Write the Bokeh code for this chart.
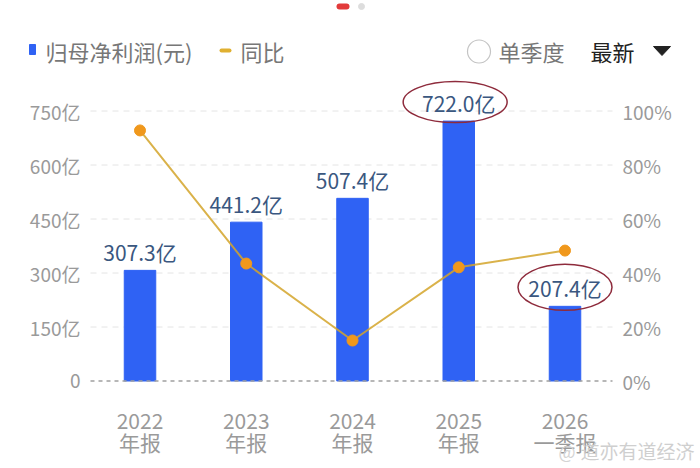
from bokeh.plotting import figure
from bokeh.models import Range1d
from bokeh.embed import file_html
from bokeh.resources import INLINE
from bokeh.core.properties import value

# ---------------- data ----------------
periods = ["2022", "2023", "2024", "2025", "2026"]
period_kind = ["年报", "年报", "年报", "年报", "一季报"]
profit = [307.3, 441.2, 507.4, 722.0, 207.4]          # 归母净利润 (亿)
profit_labels = ["307.3亿", "441.2亿", "507.4亿", "722.0亿", "207.4亿"]
yoy = [92.8, 43.5, 15.0, 42.1, 48.3]                  # 同比 (%)
left_ticks = [0, 150, 300, 450, 600, 750]
left_tick_labels = ["0", "150亿", "300亿", "450亿", "600亿", "750亿"]
right_ticks = [0, 20, 40, 60, 80, 100]
right_tick_labels = ["0%", "20%", "40%", "60%", "80%", "100%"]
highlighted = [3, 4]

# ---------------- layout helpers (picture pixels -> data) ----------------
W, H = 700, 468
X0, DX = 139.5, 106.25       # picture x of first bar, spacing
Y0, KY = 380.5, 0.36         # picture y of zero line, px per 亿
PCT = 7.5                    # 亿 per % on right axis


def X(px):
    return (px - X0) / DX


def Y(py):
    return (Y0 - py) / KY


FONT = value("Noto Sans CJK SC")
idx = list(range(len(periods)))

p = figure(width=W, height=H,
           x_range=Range1d(X(0), X(W)),
           y_range=Range1d(Y(H), Y(0)),
           output_backend="svg", toolbar_location=None,
           x_axis_location=None, y_axis_location=None,
           min_border=0)
p.extra_y_ranges = {"pct": Range1d(Y(H) / PCT, Y(0) / PCT)}
p.grid.visible = False
p.outline_line_color = None
p.background_fill_color = "white"
p.border_fill_color = "white"

# grid lines
gt = [t for t in left_ticks if t > 0]
p.segment(x0=[X(90)] * len(gt), x1=[X(612)] * len(gt), y0=gt, y1=gt,
          line_color="#e4e4e4", line_width=1, line_dash="6 5")

# bars
p.vbar(x=idx, top=profit, width=31.5 / DX, color="#2f62f4")

# zero line
p.segment(x0=[X(90)], x1=[X(612)], y0=[0], y1=[0],
          line_color="#a0a0a0", line_width=1.5, line_dash="4 4")

# yoy line
p.line(x=idx, y=yoy, y_range_name="pct", line_color="#d3a52a",
       line_width=2, line_alpha=0.85)
p.scatter(x=idx, y=yoy, y_range_name="pct", size=11,
          fill_color="#f0981c", line_color="#f0981c")

# bar value labels
p.text(x=idx, y=profit, text=profit_labels, text_align="center",
       text_baseline="middle", y_offset=-18, text_font=FONT,
       text_font_size="21px", text_color="#3a5780")

# highlight ellipses
ex = [highlighted[0] - 3.6 / DX, highlighted[1]]
ey = [profit[i] + 19 / KY for i in highlighted]
p.ellipse(x=ex, y=ey, width=[104, 94], height=[41, 46],
          width_units="screen", height_units="screen",
          fill_color=None, line_color="#8e2b3c", line_width=1.5)

# axis tick labels
p.text(x=[X(80)] * len(left_ticks), y=left_ticks, text=left_tick_labels,
       text_align="right", text_baseline="middle", text_font=FONT,
       text_font_size="19px", text_color="#9a9a9a")
p.text(x=[X(622)] * len(right_ticks), y=right_ticks, text=right_tick_labels,
       y_range_name="pct", text_align="left", text_baseline="middle",
       text_font=FONT, text_font_size="19px", text_color="#9a9a9a")

# category labels
p.text(x=idx, y=[Y(420)] * len(idx), text=periods, text_align="center",
       text_baseline="middle", text_font=FONT, text_font_size="21px",
       text_color="#9a9a9a")
p.text(x=idx, y=[Y(441)] * len(idx), text=period_kind, text_align="center",
       text_baseline="middle", text_font=FONT, text_font_size="21px",
       text_color="#9a9a9a")

# legend
p.rect(x=[X(32)], y=[Y(49)], width=6, height=10, width_units="screen",
       height_units="screen", color="#2f62f4")
p.text(x=[X(45)], y=[Y(50)], text=["归母净利润(元)"], text_baseline="middle",
       text_font=FONT, text_font_size="22px", text_color="#777777")
p.segment(x0=[X(221)], x1=[X(229)], y0=[Y(50)], y1=[Y(50)],
          line_color="#e0b030", line_width=4, line_cap="round")
p.text(x=[X(240)], y=[Y(50)], text=["同比"], text_baseline="middle",
       text_font=FONT, text_font_size="22px", text_color="#777777")

# right controls
p.scatter(x=[X(478.5)], y=[Y(51)], size=23, fill_color="white",
          line_color="#c4c4c4", line_width=1.2)
p.text(x=[X(498)], y=[Y(50)], text=["单季度"], text_baseline="middle",
       text_font=FONT, text_font_size="22px", text_color="#777777")
p.text(x=[X(590)], y=[Y(50)], text=["最新"], text_baseline="middle",
       text_font=FONT, text_font_size="22px", text_color="#222222")
p.patch(x=[X(653), X(670), X(661.5)], y=[Y(46), Y(46), Y(55)],
        color="#222222")

# page indicator
p.segment(x0=[X(339)], x1=[X(346)], y0=[Y(6)], y1=[Y(6)],
          line_color="#e23b3b", line_width=6, line_cap="round")
p.scatter(x=[X(361)], y=[Y(6)], size=6, color="#dddddd")

# watermark
p.text(x=[X(580)], y=[Y(450)], text=["道亦有道经济"], text_baseline="middle",
       text_font=FONT, text_font_size="19px", text_color="#cfcfcf")
p.text(x=[X(558)], y=[Y(450)], text=["@"], text_baseline="middle",
       text_font=FONT, text_font_size="18px", text_color="#d4d4d4")

open("out.html", "w").write(file_html(p, INLINE))
